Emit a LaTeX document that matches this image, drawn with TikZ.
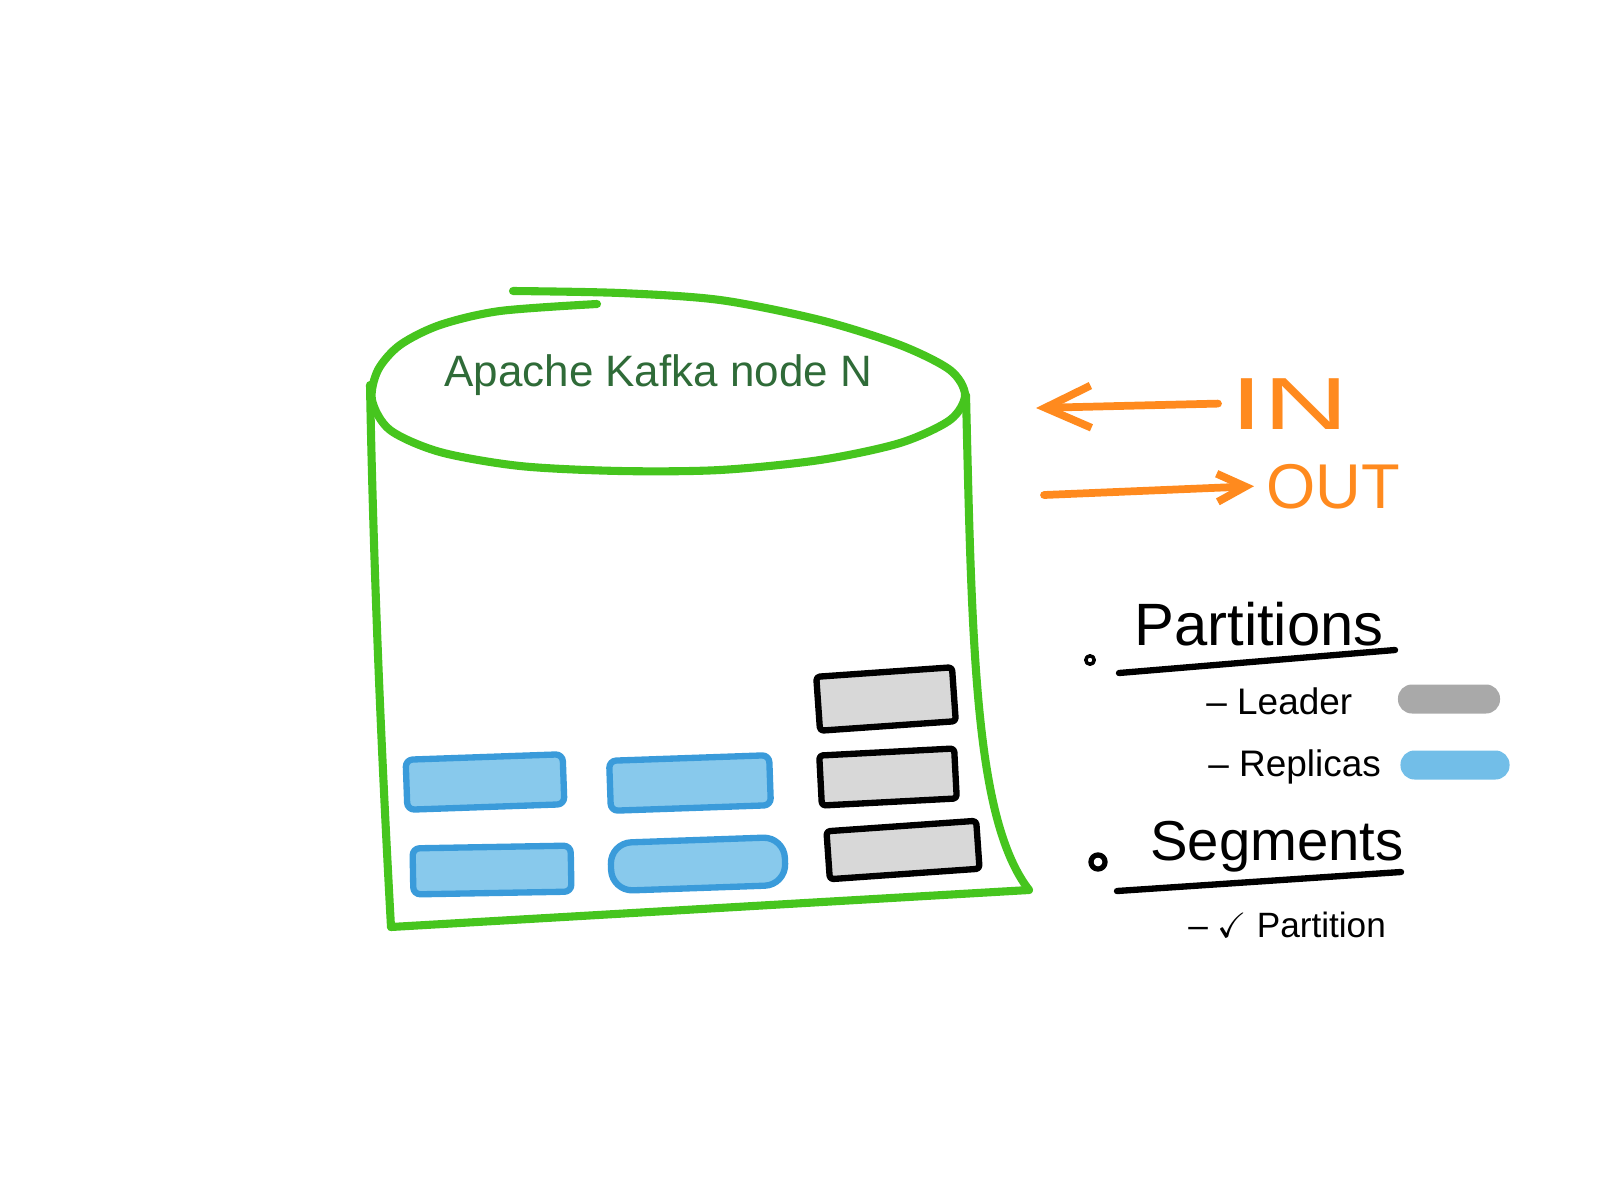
\documentclass[tikz,border=0pt]{standalone}
\usepackage{fontspec}
\setmainfont{Liberation Sans}
\usepackage{amssymb}
\usetikzlibrary{arrows.meta}

\definecolor{kafkagreen}{HTML}{46C51E}
\definecolor{titlegreen}{HTML}{2F6B38}
\definecolor{flow}{HTML}{FF8A1E}
\definecolor{replicafill}{HTML}{88C9EC}
\definecolor{replicaline}{HTML}{3A9BDA}
\definecolor{leaderfill}{HTML}{D8D8D8}
\definecolor{leaderkey}{HTML}{A9A9A9}
\definecolor{replicakey}{HTML}{72BEE8}

\begin{document}
\begin{tikzpicture}[x=0.01cm,y=-0.01cm,line cap=round,line join=round,
  kafka/.style={kafkagreen,line width=2.3pt},
  flowline/.style={flow,line width=2.2pt},
  flowtext/.style={flow,anchor=base west},
  replica/.style={draw=replicaline,fill=replicafill,line width=1.8pt,rounded corners=2pt},
  leader/.style={draw=black,fill=leaderfill,line width=1.8pt,rounded corners=1pt},
  keybar/.style={minimum height=0.29cm,rounded corners=0.14cm},
  item/.style={anchor=base west,font=\fontsize{10.5}{12}\selectfont},
  heading/.style={anchor=base west,font=\fontsize{17}{20}\selectfont},
  uline/.style={line width=1.8pt}]
\useasboundingbox (0,0) rectangle (1600,1200);

% the node drum
\draw[kafka] plot[smooth] coordinates {(513,291) (620,293) (720,300) (820,320) (900,345) (950,370)
  (965,395) (950,420) (900,443) (820,460) (720,470) (620,471) (520,466) (440,452) (390,430)
  (372,400) (378,370) (400,345) (440,325) (500,311) (597,304)};
\draw[kafka] (370,385) .. controls (374,600) and (384,800) .. (391,927);
\draw[kafka] (966,395) .. controls (972,650) and (975,820) .. (1029,890);
\draw[kafka] (391,927) -- (1029,890);
\node[titlegreen,anchor=base west,font=\fontsize{12.5}{15}\selectfont] (nodename) at (432,386) {Apache Kafka node N};

% partitions
\node[replica,minimum width=1.57cm,minimum height=0.5cm,rotate=2] (rep1) at (485,782) {};
\node[replica,minimum width=1.60cm,minimum height=0.5cm,rotate=2] (rep2) at (690,783) {};
\node[replica,minimum width=1.58cm,minimum height=0.46cm,rotate=1] (rep3) at (492,870) {};
\node[replica,minimum width=1.74cm,minimum height=0.48cm,rotate=2,rounded corners=6pt] (rep4) at (698,864) {};
\node[leader,minimum width=1.36cm,minimum height=0.54cm,rotate=4] (lead1) at (886,699) {};
\node[leader,minimum width=1.35cm,minimum height=0.5cm,rotate=3] (lead2) at (888,777) {};
\node[leader,minimum width=1.5cm,minimum height=0.48cm,rotate=4] (lead3) at (903,850) {};

% in / out
\node[flowtext,font=\fontsize{21}{24}\selectfont] (in) at (1218,429) {\scalebox{1.6}[1]{IN}};
\node[flowtext,font=\fontsize{18}{21}\selectfont] (out) at (1254,508) {OUT};
\coordinate (inend) at (1036,408);
\coordinate (outstart) at (1044,495);
\draw[flowline,-{Straight Barb[length=13pt,width=12pt]}] (in.west) -- (inend);
\draw[flowline,-{Straight Barb[length=8pt,width=8pt]}] (outstart) -- (out.west);

% legend
\draw[line width=1pt] (1090,660) circle[radius=1.2pt];
\node[heading] (partitions) at (1122,645) {Partitions};
\draw[uline] (1119,673) -- (1395,650);
\node[item] (leader) at (1194,714) {– Leader};
\node[keybar,fill=leaderkey,minimum width=1.02cm] (leaderbar) at (1449,699) {};
\node[item] (replicas) at (1196,776) {– Replicas};
\node[keybar,fill=replicakey,minimum width=1.09cm] (replicabar) at (1455,765) {};
\draw[line width=1.5pt] (1098,862) circle[radius=2pt];
\node[heading,font=\fontsize{16}{19}\selectfont] (segments) at (1138,860) {Segments};
\draw[uline] (1117,891) -- (1401,872);
\node[item,font=\fontsize{10}{12}\selectfont] (partition) at (1176,937) {– $\checkmark$ Partition};
\end{tikzpicture}
\end{document}
